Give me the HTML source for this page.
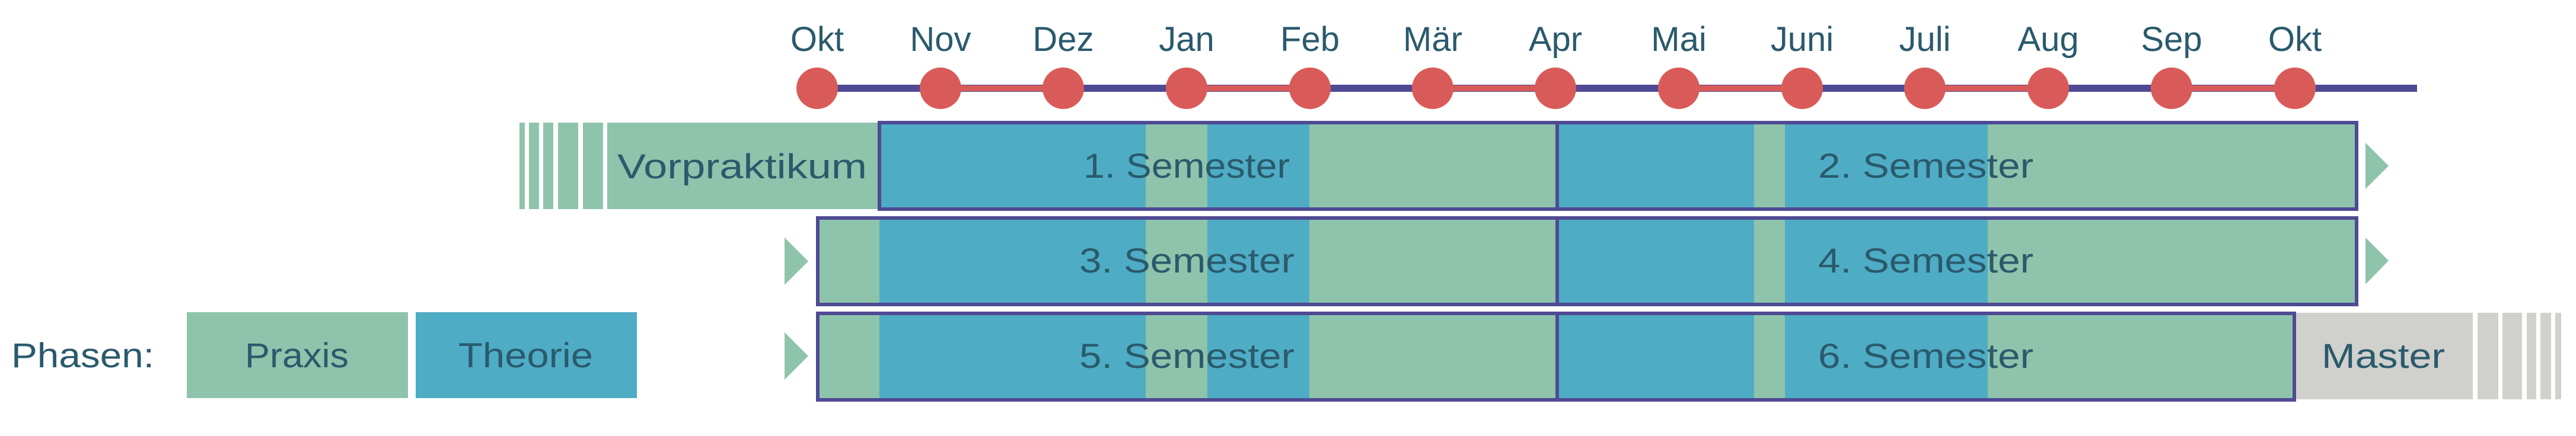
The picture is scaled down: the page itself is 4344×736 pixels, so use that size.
<!DOCTYPE html>
<html><head><meta charset="utf-8"><style>
html,body{margin:0;padding:0;background:#fff;}
svg{display:block;}
text{font-family:"Liberation Sans",sans-serif;fill:#2a5a6c;font-size:58px;}
</style></head><body>
<svg width="4344" height="736" viewBox="0 0 4344 736" xmlns="http://www.w3.org/2000/svg">
<!-- timeline -->
<g>
<rect x="1378" y="143" width="2698" height="12" fill="#4f4a94"/>
<rect x="1586" y="144" width="207" height="10" fill="#d95b59"/>
<rect x="2001" y="144" width="208" height="10" fill="#d95b59"/>
<rect x="2416" y="144" width="207" height="10" fill="#d95b59"/>
<rect x="2831" y="144" width="208" height="10" fill="#d95b59"/>
<rect x="3246" y="144" width="208" height="10" fill="#d95b59"/>
<rect x="3662" y="144" width="208" height="10" fill="#d95b59"/>
<g fill="#d95b59">
<circle cx="1378" cy="149" r="35"/><circle cx="1586" cy="149" r="35"/><circle cx="1793" cy="149" r="35"/>
<circle cx="2001" cy="149" r="35"/><circle cx="2209" cy="149" r="35"/><circle cx="2416" cy="149" r="35"/>
<circle cx="2623" cy="149" r="35"/><circle cx="2831" cy="149" r="35"/><circle cx="3039" cy="149" r="35"/>
<circle cx="3246" cy="149" r="35"/><circle cx="3454" cy="149" r="35"/><circle cx="3662" cy="149" r="35"/>
<circle cx="3870" cy="149" r="35"/>
</g>
<g text-anchor="middle">
<text x="1378" y="86">Okt</text><text x="1586" y="86">Nov</text><text x="1793" y="86">Dez</text>
<text x="2001" y="86">Jan</text><text x="2209" y="86">Feb</text><text x="2416" y="86">Mär</text>
<text x="2623" y="86">Apr</text><text x="2831" y="86">Mai</text><text x="3039" y="86">Juni</text>
<text x="3246" y="86">Juli</text><text x="3454" y="86">Aug</text><text x="3662" y="86">Sep</text>
<text x="3870" y="86">Okt</text>
</g>
</g>

<!-- Vorpraktikum -->
<g fill="#8ec4ab">
<rect x="876" y="207" width="9" height="146"/>
<rect x="892" y="207" width="17" height="146"/>
<rect x="916" y="207" width="17" height="146"/>
<rect x="941" y="207" width="34" height="146"/>
<rect x="983" y="207" width="34" height="146"/>
<rect x="1024" y="207" width="460" height="146"/>
</g>
<text x="1041" y="301" textLength="421" lengthAdjust="spacingAndGlyphs">Vorpraktikum</text>

<!-- Row 1 -->
<rect x="1480" y="204" width="2497" height="152" fill="#8ec4ab"/>
<rect x="1480" y="204" width="452" height="152" fill="#4facc5"/>
<rect x="2036" y="204" width="172" height="152" fill="#4facc5"/>
<rect x="2623" y="204" width="335" height="152" fill="#4facc5"/>
<rect x="3010" y="204" width="342" height="152" fill="#4facc5"/>
<rect x="2623" y="204" width="6" height="152" fill="#4f4a94"/>
<rect x="1483" y="207" width="2491" height="146" fill="none" stroke="#4f4a94" stroke-width="6"/>
<text x="1827" y="300" textLength="348" lengthAdjust="spacingAndGlyphs">1. Semester</text>
<text x="3066" y="300" textLength="363" lengthAdjust="spacingAndGlyphs">2. Semester</text>
<polygon points="3989,241 4028,280 3989,319" fill="#8ec4ab"/>

<!-- Row 2 -->
<rect x="1376" y="365" width="2601" height="152" fill="#8ec4ab"/>
<rect x="1483" y="365" width="449" height="152" fill="#4facc5"/>
<rect x="2036" y="365" width="172" height="152" fill="#4facc5"/>
<rect x="2623" y="365" width="335" height="152" fill="#4facc5"/>
<rect x="3010" y="365" width="342" height="152" fill="#4facc5"/>
<rect x="2623" y="365" width="6" height="152" fill="#4f4a94"/>
<rect x="1379" y="368" width="2595" height="146" fill="none" stroke="#4f4a94" stroke-width="6"/>
<text x="1820" y="460" textLength="363" lengthAdjust="spacingAndGlyphs">3. Semester</text>
<text x="3066" y="460" textLength="363" lengthAdjust="spacingAndGlyphs">4. Semester</text>
<polygon points="1323,401 1363,441 1323,481" fill="#8ec4ab"/>
<polygon points="3989,401 4028,440 3989,480" fill="#8ec4ab"/>

<!-- Row 3 -->
<rect x="1376" y="526" width="2496" height="152" fill="#8ec4ab"/>
<rect x="1483" y="526" width="449" height="152" fill="#4facc5"/>
<rect x="2036" y="526" width="172" height="152" fill="#4facc5"/>
<rect x="2623" y="526" width="335" height="152" fill="#4facc5"/>
<rect x="3010" y="526" width="342" height="152" fill="#4facc5"/>
<rect x="2623" y="526" width="6" height="152" fill="#4f4a94"/>
<rect x="1379" y="529" width="2490" height="146" fill="none" stroke="#4f4a94" stroke-width="6"/>
<text x="1820" y="621" textLength="363" lengthAdjust="spacingAndGlyphs">5. Semester</text>
<text x="3066" y="621" textLength="363" lengthAdjust="spacingAndGlyphs">6. Semester</text>
<polygon points="1323,561 1363,601 1323,641" fill="#8ec4ab"/>

<!-- Master -->
<g fill="#d0d0cc">
<rect x="3872" y="528" width="298" height="146"/>
<rect x="4178" y="528" width="35" height="146"/>
<rect x="4220" y="528" width="33" height="146"/>
<rect x="4261" y="528" width="16" height="146"/>
<rect x="4284" y="528" width="18" height="146"/>
<rect x="4309" y="528" width="10" height="146"/>
</g>
<text x="3915" y="621" textLength="208" lengthAdjust="spacingAndGlyphs">Master</text>

<!-- Legend -->
<text x="19" y="620" textLength="241" lengthAdjust="spacingAndGlyphs">Phasen:</text>
<rect x="315" y="527" width="373" height="145" fill="#8ec4ab"/>
<rect x="701" y="527" width="373" height="145" fill="#4facc5"/>
<text x="413" y="620" textLength="175" lengthAdjust="spacingAndGlyphs">Praxis</text>
<text x="773" y="620" textLength="227" lengthAdjust="spacingAndGlyphs">Theorie</text>
</svg>
</body></html>
